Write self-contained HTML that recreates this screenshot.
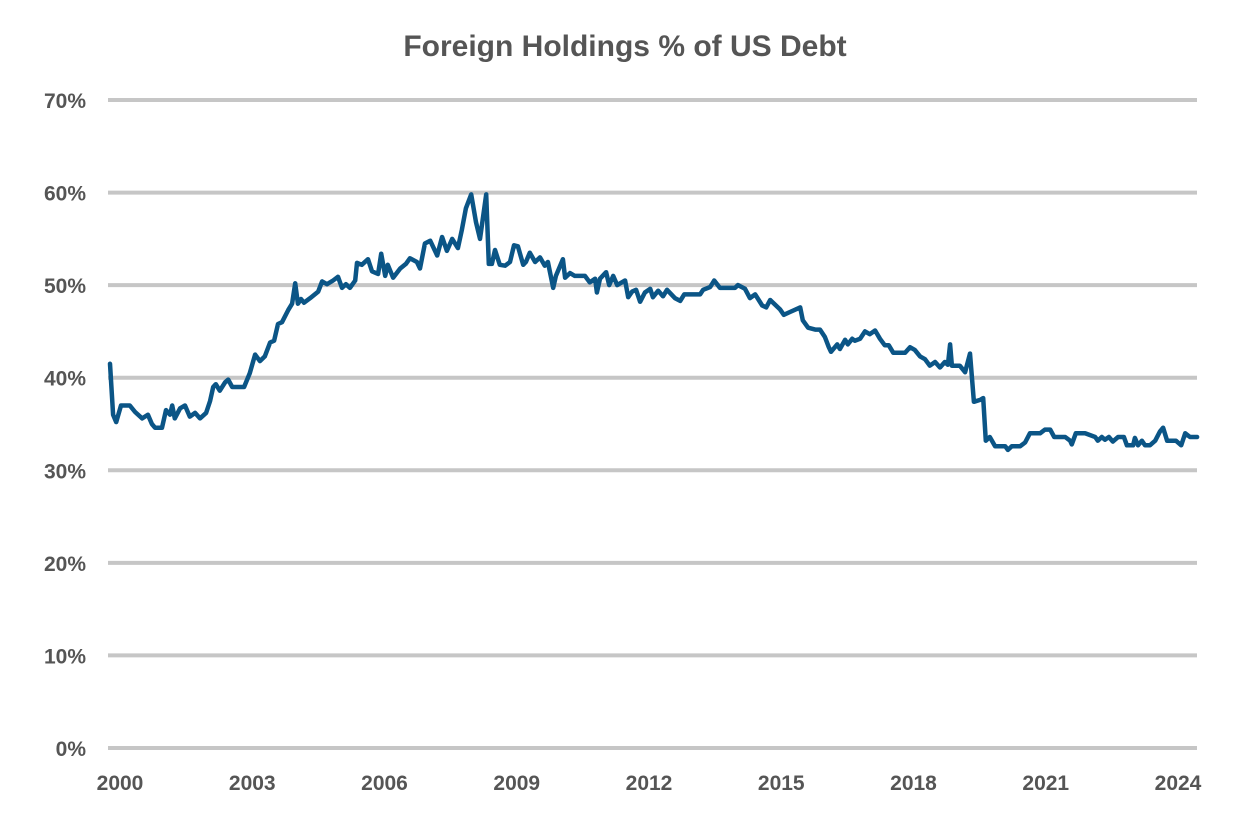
<!DOCTYPE html>
<html><head><meta charset="utf-8"><style>
body{margin:0;background:#fff;}
svg{display:block;font-family:"Liberation Sans",Arial,sans-serif;}
</style></head><body>
<svg id="chart" width="1250" height="833">
<text x="625" y="56" text-anchor="middle" font-size="30" font-weight="bold" fill="#555">Foreign Holdings % of US Debt</text>
<g id="grid"></g>
<g id="ylabels"></g>
<g id="xlabels"></g>
<path id="line" fill="none" stroke="#0b5586" stroke-width="4.5" stroke-linejoin="round" stroke-linecap="round"/>
</svg>
<script>
const yTicks=[0,10,20,30,40,50,60,70];
const xTickLabels=["2000","2003","2006","2009","2012","2015","2018","2021","2024"];
const dates=[2000.00,2000.07,2000.14,2000.25,2000.45,2000.57,2000.73,2000.86,2000.95,2001.02,2001.18,2001.27,2001.36,2001.41,2001.47,2001.59,2001.70,2001.81,2001.93,2002.04,2002.18,2002.27,2002.34,2002.40,2002.49,2002.61,2002.68,2002.77,2003.04,2003.17,2003.29,2003.40,2003.51,2003.63,2003.72,2003.81,2003.90,2004.04,2004.13,2004.20,2004.26,2004.33,2004.40,2004.54,2004.72,2004.81,2004.92,2005.06,2005.17,2005.26,2005.35,2005.44,2005.56,2005.60,2005.71,2005.85,2005.94,2006.08,2006.15,2006.24,2006.30,2006.42,2006.58,2006.71,2006.80,2006.96,2007.03,2007.14,2007.26,2007.42,2007.53,2007.64,2007.76,2007.89,2007.98,2008.07,2008.19,2008.30,2008.39,2008.53,2008.59,2008.66,2008.73,2008.84,2008.96,2009.07,2009.16,2009.25,2009.37,2009.43,2009.52,2009.64,2009.75,2009.86,2009.93,2010.05,2010.11,2010.20,2010.27,2010.32,2010.43,2010.54,2010.77,2010.88,2011.00,2011.04,2011.11,2011.25,2011.32,2011.41,2011.50,2011.68,2011.75,2011.84,2011.93,2012.02,2012.13,2012.25,2012.31,2012.43,2012.54,2012.63,2012.81,2012.93,2013.02,2013.38,2013.45,2013.61,2013.70,2013.83,2014.17,2014.24,2014.40,2014.51,2014.63,2014.79,2014.88,2014.97,2015.19,2015.28,2015.42,2015.65,2015.71,2015.83,2015.99,2016.10,2016.21,2016.30,2016.35,2016.49,2016.55,2016.67,2016.73,2016.83,2016.89,2017.01,2017.12,2017.23,2017.35,2017.46,2017.57,2017.66,2017.76,2018.03,2018.14,2018.25,2018.37,2018.48,2018.59,2018.71,2018.82,2018.93,2019.00,2019.05,2019.09,2019.27,2019.39,2019.50,2019.59,2019.73,2019.80,2019.86,2019.95,2020.07,2020.30,2020.36,2020.45,2020.64,2020.75,2020.86,2021.09,2021.20,2021.32,2021.41,2021.66,2021.77,2021.81,2021.90,2022.11,2022.34,2022.40,2022.49,2022.56,2022.65,2022.74,2022.86,2022.99,2023.06,2023.20,2023.24,2023.31,2023.40,2023.47,2023.58,2023.70,2023.81,2023.88,2023.97,2024.17,2024.29,2024.38,2024.49,2024.65];
const values=[41.5,36,35.2,37,37,36.3,35.6,36,35,34.6,34.6,36.5,36,37,35.6,36.7,37,35.8,36.2,35.6,36.2,37.5,39,39.3,38.6,39.5,39.8,39,39,40.5,42.5,41.8,42.3,43.8,44,45.8,46,47.3,48,50.2,48,48.5,48.1,48.6,49.3,50.4,50.1,50.5,50.9,49.7,50.1,49.7,50.5,52.4,52.2,52.8,51.5,51.2,53.4,51,52.2,50.8,51.8,52.3,52.9,52.5,51.8,54.5,54.8,53.2,55.2,53.7,55,54,56,58.3,59.8,56.8,55,59.8,52.3,52.3,53.8,52.2,52.1,52.5,54.3,54.2,52.2,52.5,53.5,52.5,53,52.1,52.5,49.7,51,52,52.8,50.8,51.3,51,51,50.3,50.7,49.2,50.7,51.4,50,51,50,50.5,48.7,49.3,49.5,48.2,49.2,49.6,48.7,49.4,48.8,49.5,48.6,48.3,49,49,49.5,49.8,50.5,49.7,49.7,50,49.6,48.6,49,47.8,47.6,48.4,47.4,46.8,47.1,47.6,46.2,45.4,45.2,45.2,44.4,43.3,42.8,43.6,43.1,44.1,43.6,44.2,44,44.2,45,44.7,45.1,44.2,43.5,43.5,42.7,42.7,43.3,43,42.3,42,41.3,41.7,41.1,41.7,41.4,43.6,41.3,41.3,40.6,42.6,37.4,37.6,37.8,33.2,33.6,32.6,32.6,32.2,32.6,32.6,33,34,34,34.4,34.4,33.6,33.6,33.2,32.8,34,34,33.6,33.2,33.6,33.3,33.6,33.1,33.6,33.6,32.7,32.7,33.5,32.7,33.2,32.7,32.7,33.2,34.2,34.6,33.2,33.2,32.7,34,33.6,33.6];

const NS="http://www.w3.org/2000/svg";
function yScale(v){return 748-(v/70)*648;}
function xScale(t){return 110+(t-2000)*44.1;}
const grid=document.getElementById('grid'),yl=document.getElementById('ylabels'),xl=document.getElementById('xlabels');
yTicks.forEach(v=>{
  const ln=document.createElementNS(NS,'line');
  
  
  ln.setAttribute('x1',108);ln.setAttribute('x2',1197);
  ln.setAttribute('y1',yScale(v));ln.setAttribute('y2',yScale(v));
  ln.setAttribute('stroke','#c6c6c6');ln.setAttribute('stroke-width','4');
  grid.appendChild(ln);
  const t=document.createElementNS(NS,'text');
  
  
  t.setAttribute('x',86);t.setAttribute('y',yScale(v)+8);
  t.setAttribute('text-anchor','end');t.setAttribute('font-size','21');
  t.setAttribute('font-weight','bold');t.setAttribute('fill','#555');
  t.textContent=v+'%';
  yl.appendChild(t);
});
xTickLabels.forEach((s,i)=>{
  const t=document.createElementNS(NS,'text');
  
  
  t.setAttribute('x',120+i*132.25);t.setAttribute('y',790);
  t.setAttribute('text-anchor','middle');t.setAttribute('font-size','21');
  t.setAttribute('font-weight','bold');t.setAttribute('fill','#555');
  t.textContent=s;
  xl.appendChild(t);
});
let d='';
dates.forEach((t,i)=>{d+=(i?'L':'M')+xScale(t).toFixed(1)+','+yScale(values[i]).toFixed(1);});
document.getElementById('line').setAttribute('d',d);
</script>
</body></html>
